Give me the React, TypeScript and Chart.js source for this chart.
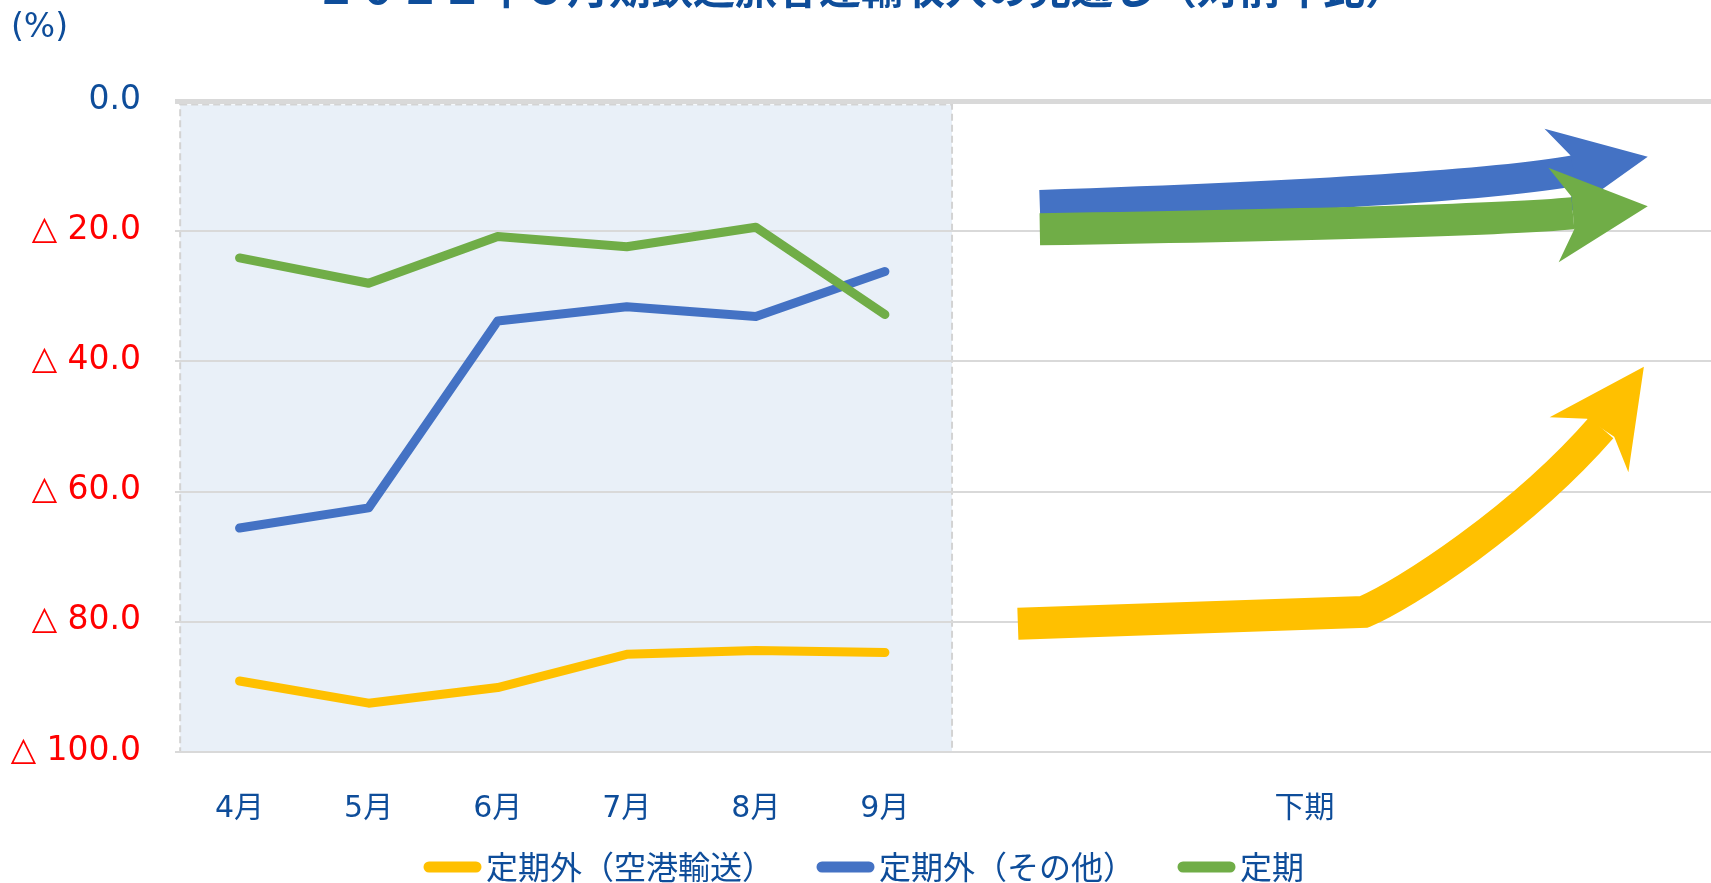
import React, { useEffect, useRef } from 'react';
import { Chart, registerables } from 'chart.js';

Chart.register(...registerables);

// ---------- data ----------
const TITLE = '２０２１年３月期鉄道旅客運輸収入の見通し（対前年比）';
const UNIT_LABEL = '(%)';
const MONTHS = ['4月', '5月', '6月', '7月', '8月', '9月'];
const MONTH_POSITIONS = [1, 2, 3, 4, 5, 6];
const SECOND_HALF_LABEL = '下期';
const SECOND_HALF_POSITION = 9.25;
const SERIES_NAMES = ['定期外（空港輸送）', '定期外（その他）', '定期'];
const AIRPORT_VALUES = [-89.1, -92.5, -90.1, -85.0, -84.4, -84.7];
const OTHER_VALUES = [-65.6, -62.5, -33.8, -31.6, -33.1, -26.2];
const COMMUTER_VALUES = [-24.1, -28.0, -20.8, -22.4, -19.4, -32.8];
const Y_MIN = -100;
const Y_MAX = 0;
const Y_STEP = 20;

// outlook (下期) arrows, in data units [x, y]
const OTHER_ARROW_SHAFT = [
  { cmd: 'M', pts: [[7.2, -16.05]] },
  { cmd: 'Q', pts: [[10.45, -13.86], [11.35, -10.68]] },
];
const OTHER_ARROW_HEAD = [[11.31, -8.33], [11.11, -4.27], [11.91, -8.57], [11.24, -18.05], [11.36, -12.89]];
const COMMUTER_ARROW_SHAFT = [
  { cmd: 'M', pts: [[7.2, -19.71]] },
  { cmd: 'Q', pts: [[10.6, -18.6], [11.33, -17.24]] },
];
const COMMUTER_ARROW_HEAD = [[11.32, -14.72], [11.14, -10.26], [11.91, -16.16], [11.22, -24.76], [11.34, -19.74]];
const AIRPORT_ARROW_SHAFT = [
  { cmd: 'M', pts: [[7.03, -80.29]] },
  { cmd: 'L', pts: [[9.71, -78.49]] },
  { cmd: 'C', pts: [[10.03, -75.81], [10.93, -64.29], [11.55, -50.2]] },
];
const AIRPORT_ARROW_HEAD = [[11.44, -48.82], [11.15, -48.57], [11.88, -40.83], [11.76, -57.02], [11.65, -51.58]];

// shaded actual-results region (data units)
const SHADE_X = [0.54, 6.52];
const SHADE_Y = [-0.55, -100];

// ---------- styles ----------
const YELLOW = '#FFC000';
const BLUE = '#4472C4';
const GREEN = '#70AD47';
const SERIES_COLORS = [YELLOW, BLUE, GREEN];
const TEXT_BLUE = '#0E4D9A';
const RED = '#FF0000';
const CJK = '"Noto Sans CJK JP", "Noto Sans", sans-serif';
const LATIN = '"DejaVu Sans", "Noto Sans CJK JP", sans-serif';

type PathCmd = { cmd: string; pts: number[][] };

function drawArrow(chart: any, shaft: PathCmd[], head: number[][], color: string, width: number) {
  const { ctx, scales } = chart;
  const xs = scales.x;
  const ys = scales.y;
  const P = (p: number[]) => [xs.getPixelForValue(p[0]), ys.getPixelForValue(p[1])];
  ctx.save();
  ctx.strokeStyle = color;
  ctx.fillStyle = color;
  ctx.lineWidth = width;
  ctx.lineCap = 'butt';
  ctx.lineJoin = 'miter';
  ctx.beginPath();
  shaft.forEach((seg) => {
    const pts = seg.pts.map(P);
    if (seg.cmd === 'M') ctx.moveTo(pts[0][0], pts[0][1]);
    else if (seg.cmd === 'L') ctx.lineTo(pts[0][0], pts[0][1]);
    else if (seg.cmd === 'Q') ctx.quadraticCurveTo(pts[0][0], pts[0][1], pts[1][0], pts[1][1]);
    else if (seg.cmd === 'C') ctx.bezierCurveTo(pts[0][0], pts[0][1], pts[1][0], pts[1][1], pts[2][0], pts[2][1]);
  });
  ctx.stroke();
  ctx.beginPath();
  head.map(P).forEach((p, i) => (i === 0 ? ctx.moveTo(p[0], p[1]) : ctx.lineTo(p[0], p[1])));
  ctx.closePath();
  ctx.fill();
  ctx.restore();
}

function drawLegend(chart: any) {
  const { ctx, width, height } = chart;
  const seg = 47;
  const gap = 10;
  const spacing = 48;
  const y = height - 16;
  ctx.save();
  ctx.font = `32px ${CJK}`;
  const widths = SERIES_NAMES.map((n) => ctx.measureText(n).width);
  const total = widths.reduce((a, w) => a + seg + gap + w, 0) + spacing * (SERIES_NAMES.length - 1);
  let x = width / 2 + 11 - total / 2;
  ctx.textAlign = 'left';
  ctx.textBaseline = 'middle';
  SERIES_NAMES.forEach((name, i) => {
    ctx.strokeStyle = SERIES_COLORS[i];
    ctx.lineWidth = 11;
    ctx.lineCap = 'round';
    ctx.beginPath();
    ctx.moveTo(x, y);
    ctx.lineTo(x + seg, y);
    ctx.stroke();
    ctx.fillStyle = TEXT_BLUE;
    ctx.fillText(name, x + seg + gap, y);
    x += seg + gap + widths[i] + spacing;
  });
  ctx.restore();
}

const decorPlugin = {
  id: 'decor',
  beforeDraw(chart: any) {
    const { ctx, scales } = chart;
    const l = scales.x.getPixelForValue(SHADE_X[0]);
    const r = scales.x.getPixelForValue(SHADE_X[1]);
    const t = scales.y.getPixelForValue(SHADE_Y[0]);
    const b = scales.y.getPixelForValue(SHADE_Y[1]);
    ctx.save();
    ctx.fillStyle = '#E9F0F8';
    ctx.fillRect(l, t, r - l, b - t);
    ctx.setLineDash([7, 4]);
    ctx.strokeStyle = '#D3D3D3';
    ctx.lineWidth = 2;
    ctx.strokeRect(l, t, r - l, b - t);
    ctx.restore();
  },
  afterDatasetsDraw(chart: any) {
    drawArrow(chart, OTHER_ARROW_SHAFT, OTHER_ARROW_HEAD, BLUE, 31);
    drawArrow(chart, COMMUTER_ARROW_SHAFT, COMMUTER_ARROW_HEAD, GREEN, 32);
    drawArrow(chart, AIRPORT_ARROW_SHAFT, AIRPORT_ARROW_HEAD, YELLOW, 32);
  },
  afterDraw(chart: any) {
    const { ctx } = chart;
    ctx.save();
    ctx.fillStyle = TEXT_BLUE;
    ctx.font = `bold 42px ${CJK}`;
    ctx.textAlign = 'center';
    ctx.textBaseline = 'alphabetic';
    ctx.fillText(TITLE, 861, 4);
    ctx.font = `33px ${LATIN}`;
    ctx.textAlign = 'left';
    ctx.fillText(UNIT_LABEL, 11, 37);
    ctx.restore();
    drawLegend(chart);
  },
};

const X_TICK_VALUES = [...MONTH_POSITIONS, SECOND_HALF_POSITION];
const X_TICK_LABELS = [...MONTHS, SECOND_HALF_LABEL];

export default function App() {
  const canvasRef = useRef<HTMLCanvasElement | null>(null);

  useEffect(() => {
    if (!canvasRef.current) return;
    const toPoints = (vals: number[]) => vals.map((v, i) => ({ x: MONTH_POSITIONS[i], y: v }));
    const lineStyle = {
      borderWidth: 9,
      pointRadius: 0,
      borderCapStyle: 'round' as const,
      borderJoinStyle: 'round' as const,
      tension: 0,
      fill: false,
    };
    const chart = new Chart(canvasRef.current, {
      type: 'line',
      data: {
        datasets: [
          { label: SERIES_NAMES[0], data: toPoints(AIRPORT_VALUES), borderColor: YELLOW, backgroundColor: YELLOW, order: 2, ...lineStyle },
          { label: SERIES_NAMES[1], data: toPoints(OTHER_VALUES), borderColor: BLUE, backgroundColor: BLUE, order: 1, ...lineStyle },
          { label: SERIES_NAMES[2], data: toPoints(COMMUTER_VALUES), borderColor: GREEN, backgroundColor: GREEN, order: 0, ...lineStyle },
        ],
      },
      options: {
        animation: false,
        responsive: false,
        layout: { padding: { top: 101, left: 0, right: 0, bottom: 0 } },
        scales: {
          x: {
            type: 'linear',
            min: 0.5,
            max: 12.4,
            grid: { display: false, drawTicks: false },
            border: { display: false },
            afterBuildTicks: (s: any) => {
              s.ticks = X_TICK_VALUES.map((v) => ({ value: v }));
            },
            afterFit: (s: any) => {
              s.height = 131;
            },
            ticks: {
              autoSkip: false,
              maxRotation: 0,
              padding: 39,
              color: TEXT_BLUE,
              font: { family: LATIN, size: 30 },
              callback: (_v: any, i: number) => X_TICK_LABELS[i],
            },
          },
          y: {
            type: 'linear',
            min: Y_MIN,
            max: Y_MAX,
            afterFit: (s: any) => {
              s.width = 175;
            },
            grid: {
              color: '#D9D9D9',
              lineWidth: (c: any) => (c.tick && c.tick.value === 0 ? 5 : 2),
              drawTicks: false,
            },
            border: { display: false },
            ticks: {
              stepSize: Y_STEP,
              padding: 34,
              labelOffset: -1,
              font: { family: LATIN, size: 33 },
              color: (c: any) => (c.tick && c.tick.value === 0 ? TEXT_BLUE : RED),
              callback: (v: any) => (Number(v) === 0 ? '0.0' : '△ ' + Math.abs(Number(v)).toFixed(1)),
            },
          },
        },
        plugins: {
          title: { display: false },
          tooltip: { enabled: false },
          legend: { display: false },
        },
      },
      plugins: [decorPlugin],
    } as any);
    return () => chart.destroy();
  }, []);

  return (
    <div style={{ position: 'fixed', left: 0, top: 0, width: 1711, height: 883, overflow: 'hidden', background: '#fff' }}>
      <canvas ref={canvasRef} width={1711} height={883} style={{ display: 'block' }} />
    </div>
  );
}
